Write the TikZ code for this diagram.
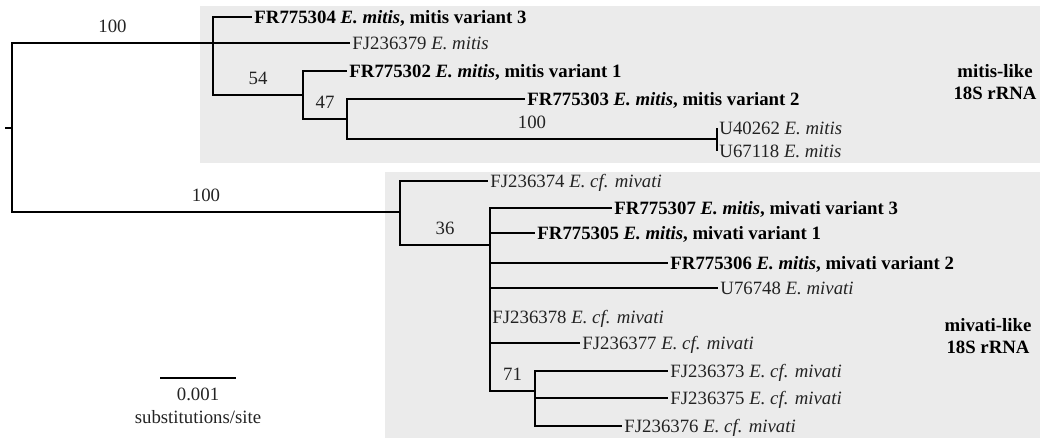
\documentclass[tikz,border=0pt]{standalone}
\usepackage{fontspec}
\setmainfont{Liberation Serif}
\definecolor{boxgray}{RGB}{235,235,235}
\definecolor{txtgray}{RGB}{35,35,35}
\begin{document}
\begin{tikzpicture}[x=0.02cm, y=-0.02cm, line width=0.8pt,
    every node/.style={font=\fontsize{10.7}{13}\selectfont, text=txtgray},
    leaf/.style={anchor=west, inner sep=1pt, text height=7pt, text depth=0pt},
    bs/.style={pos=0.75, above, inner sep=0pt, yshift=5.5pt},
    clade/.style={font=\bfseries\fontsize{10.7}{13}\selectfont, align=center, text=black}]
  \useasboundingbox (0,0) rectangle (1040,438);

  % 两个分支的灰色背景
  \fill[boxgray] (200,6) rectangle (1040,163);
  \fill[boxgray] (385,172) rectangle (1040,438);

  % 内部节点
  \coordinate (tick) at (5,128);
  \coordinate (root) at (12,128);
  \coordinate (nA) at (213,43);
  \coordinate (nB) at (303,95);
  \coordinate (nC) at (347,119);
  \coordinate (nD) at (717,139);
  \coordinate (nE) at (400,212);
  \coordinate (nF) at (490,245);
  \coordinate (nG) at (535,391);

  % mitis 类序列
  \node[leaf, text=black] (FR775304) at (252,17) {\bfseries FR775304 \textit{E. mitis}, mitis variant 3};
  \node[leaf] (FJ236379) at (350,43) {FJ236379 \textit{E. mitis}};
  \node[leaf, text=black] (FR775302) at (347,71) {\bfseries FR775302 \textit{E. mitis}, mitis variant 1};
  \node[leaf, text=black] (FR775303) at (525,99) {\bfseries FR775303 \textit{E. mitis}, mitis variant 2};
  \node[leaf] (U40262) at (717,128) {U40262 \textit{E. mitis}};
  \node[leaf] (U67118) at (717,151) {U67118 \textit{E. mitis}};

  % mivati 类序列
  \node[leaf] (FJ236374) at (488,181) {FJ236374 \textit{E. cf. mivati}};
  \node[leaf, text=black] (FR775307) at (612,208) {\bfseries FR775307 \textit{E. mitis}, mivati variant 3};
  \node[leaf, text=black] (FR775305) at (535,233) {\bfseries FR775305 \textit{E. mitis}, mivati variant 1};
  \node[leaf, text=black] (FR775306) at (668,263) {\bfseries FR775306 \textit{E. mitis}, mivati variant 2};
  \node[leaf] (U76748) at (718,288) {U76748 \textit{E. mivati}};
  \node[leaf] (FJ236378) at (490,317) {FJ236378 \textit{E. cf. mivati}};
  \node[leaf] (FJ236377) at (580,343) {FJ236377 \textit{E. cf. mivati}};
  \node[leaf] (FJ236373) at (668,371) {FJ236373 \textit{E. cf. mivati}};
  \node[leaf] (FJ236375) at (668,398) {FJ236375 \textit{E. cf. mivati}};
  \node[leaf] (FJ236376) at (622,426) {FJ236376 \textit{E. cf. mivati}};

  % 树枝
  \draw (tick) -- (root);
  \draw (root) |- node[bs] {100} (nA);
  \draw (root) |- node[bs] {100} (nE);

  \draw (nA) |- (FR775304.west);
  \draw (nA) |- (FJ236379.west);
  \draw (nA) |- node[bs] {54} (nB);
  \draw (nB) |- (FR775302.west);
  \draw (nB) |- node[bs] {47} (nC);
  \draw (nC) |- (FR775303.west);
  \draw (nC) |- node[bs] {100} (nD);
  \draw (nD) |- (U40262.west);
  \draw (nD) |- (U67118.west);

  \draw (nE) |- (FJ236374.west);
  \draw (nE) |- node[bs] {36} (nF);
  \draw (nF) |- (FR775307.west);
  \draw (nF) |- (FR775305.west);
  \draw (nF) |- (FR775306.west);
  \draw (nF) |- (U76748.west);
  \draw (nF) |- (FJ236378.west);
  \draw (nF) |- (FJ236377.west);
  \draw (nF) |- node[bs] {71} (nG);
  \draw (nG) |- (FJ236373.west);
  \draw (nG) |- (FJ236375.west);
  \draw (nG) |- (FJ236376.west);

  % 分支标签
  \node[clade] (mitislike) at (995,82) {mitis-like\\18S rRNA};
  \node[clade] (mivatilike) at (988,336) {mivati-like\\18S rRNA};

  % 比例尺
  \coordinate (sbL) at (160,378);
  \coordinate (sbR) at (236,378);
  \draw (sbL) -- (sbR);
  \node (sbnum) at (198,394) {0.001};
  \node (sbunit) at (198,417) {substitutions/site};
\end{tikzpicture}
\end{document}
